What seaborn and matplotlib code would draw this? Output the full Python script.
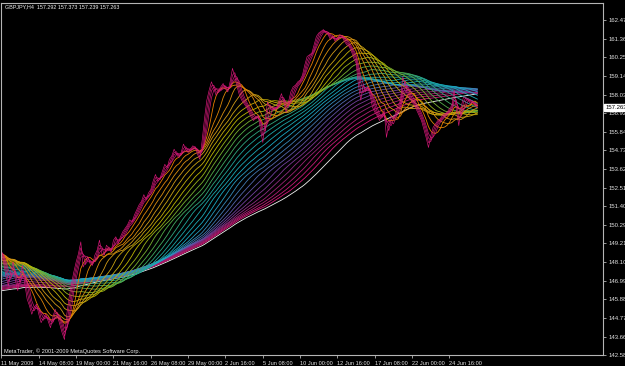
import numpy as np
import pandas as pd
import matplotlib
matplotlib.use("Agg")
import matplotlib.pyplot as plt
import seaborn as sns
from matplotlib.colors import LinearSegmentedColormap, to_hex

# ---------------- data ----------------
# H4 closes before the visible window (needed by the slow averages)
warmup_close = [145.5, 145.2, 144.8, 144.5, 144.9, 145.3, 145.6, 145.1, 144.7, 144.4,
                144.8, 145.2, 145.5, 145.0, 144.6, 144.9, 145.3, 145.6, 145.2, 144.9,
                145.3, 145.8, 146.2, 146.6, 146.3, 146.0, 145.6, 145.2, 144.8, 144.4,
                144.0, 143.7, 143.4, 143.8, 144.2, 144.6, 144.3, 143.9, 143.6, 144.0,
                144.5, 145.0, 145.4, 145.1, 145.6, 146.0, 146.4, 146.1, 145.7, 146.2,
                146.6, 147.0, 146.7, 146.3, 145.9, 146.4, 146.8, 146.5, 146.1, 145.8,
                146.2, 146.6, 146.3, 145.9, 146.4, 146.7, 146.2, 145.8, 146.1, 146.5,
                146.3, 146.7, 146.4, 146.9, 147.2, 146.8, 146.5, 146.9, 147.3, 147.0,
                146.7, 147.1, 147.5, 147.2, 146.9, 147.3, 147.6, 147.3, 147.0, 147.4,
                147.8, 147.5, 147.2, 147.6, 148.0, 147.7, 147.4, 147.8, 148.2, 147.9,
                147.6, 148.0, 148.4, 148.1, 147.8, 148.2, 148.6, 148.3, 148.0, 148.4,
                148.8, 148.5, 148.2, 148.6, 148.9, 148.6, 148.3, 148.7, 148.9, 148.7]

# H4 closes (bar 0 = 11 May 2009 16:00)
close = [148.5, 148.0, 147.2, 146.7, 147.6, 148.1, 147.0, 146.4, 147.3, 147.9,
         146.8, 145.9, 145.5, 145.0, 145.4, 145.6, 145.0, 144.5, 144.8, 145.0,
         144.6, 144.2, 144.8, 145.3, 144.9, 144.4, 143.9, 143.5, 145.0, 146.0,
         146.8, 147.5, 148.1, 148.6, 149.3, 147.8, 148.1, 148.4, 148.0, 147.9,
         148.5, 148.8, 149.4, 148.6, 148.5, 149.1, 148.9, 148.7, 149.4, 149.6,
         149.2, 149.6, 149.9, 150.1, 150.3, 150.6, 150.5, 150.9, 151.2, 151.5,
         151.7, 152.1, 151.8, 152.2, 152.4, 152.9, 153.3, 152.9, 153.1, 153.5,
         153.9, 153.7, 154.2, 154.4, 154.8, 154.5, 154.3, 154.6, 155.1, 154.8,
         154.6, 154.8, 155.0, 154.9, 154.5, 154.2, 155.3, 156.6, 157.7, 158.3,
         158.8, 158.4, 158.0, 158.3, 158.5, 158.7, 158.4, 158.2, 158.8, 159.6,
         159.1, 158.5, 158.0, 157.7, 157.5, 157.3, 157.0, 156.7, 156.5, 156.7,
         156.8, 156.0, 155.2, 156.5, 157.6, 157.3, 157.1, 157.2, 157.3, 157.7,
         158.1, 157.6, 157.0, 157.6, 158.2, 158.5, 158.6, 158.8, 158.9, 159.2,
         159.8, 160.3, 160.4, 160.5, 161.0, 161.5, 161.7, 161.8, 161.9, 161.7,
         161.6, 161.3, 161.5, 161.2, 161.4, 161.6, 161.5, 161.2, 161.0, 160.9,
         160.6, 160.2, 159.9, 158.6, 157.7, 158.6, 158.3, 158.5, 158.0, 157.3,
         157.0, 156.8, 156.5, 156.8, 157.1, 155.5, 156.3, 156.8, 156.6, 157.0,
         157.4, 157.7, 159.1, 158.6, 158.0, 157.8, 157.6, 157.4, 157.1, 156.8,
         156.5, 156.0, 155.5, 154.9, 155.6, 156.1, 156.3, 156.5, 156.6, 156.8,
         156.9, 157.0, 157.2, 157.4, 158.3, 157.1, 156.2, 157.3, 157.9, 157.8,
         157.7, 157.5, 157.6, 157.4, 157.263]

fast_periods = [1, 2, 3, 4]
rainbow_periods = list(range(6, 115, 4))
slow_period = 120

x_tick_bars = [0, 16, 32, 48, 64, 80, 96, 112, 128, 144, 160, 176, 192]
x_tick_labels = ["11 May 2009", "14 May 08:00", "19 May 00:00", "21 May 16:00",
                 "26 May 08:00", "29 May 00:00", "2 Jun 16:00", "5 Jun 08:00",
                 "10 Jun 00:00", "12 Jun 16:00", "17 Jun 08:00", "22 Jun 00:00",
                 "24 Jun 16:00"]
y_tick_values = [162.470, 161.360, 160.250, 159.140, 158.030, 156.920, 155.840,
                 154.730, 153.620, 152.510, 151.400, 150.290, 149.210, 148.100,
                 146.990, 145.880, 144.770, 143.660, 142.580]
y_tick_labels = ["162.470", "161.360", "160.250", "159.140", "158.030", "156.920",
                 "155.840", "154.730", "153.620", "152.510", "151.400", "150.290",
                 "149.210", "148.100", "146.990", "145.880", "144.770", "143.660",
                 "142.580"]
title_text = "GBPJPY,H4  157.292 157.373 157.239 157.263"
last_price = "157.263"
copyright_text = "MetaTrader, \u00a9 2001-2009 MetaQuotes Software Corp."

# ---------------- build moving averages (simple MAs) ----------------
full = pd.Series(warmup_close + close, dtype=float)
n_warm = len(warmup_close)
bars = np.arange(len(close))

rows = []
names = []
palette = {}

rain_cmap = LinearSegmentedColormap.from_list(
    "rain", ["#e87c00", "#d09a18", "#bdb800", "#52ac48", "#1ea59c",
             "#19abc4", "#4279b2", "#7042a0", "#9a2274", "#d8187a"])

def add_line(name, period, color):
    sma = full.rolling(window=period, min_periods=1).mean().values[n_warm:]
    rows.append(pd.DataFrame({"bar": bars, "value": sma, "line": name}))
    names.append(name)
    palette[name] = color

add_line("MA%d" % slow_period, slow_period, "#f0f0f0")
for i, p in enumerate(rainbow_periods[::-1]):
    frac = 1 - i / (len(rainbow_periods) - 1)
    add_line("MA%d" % p, p, to_hex(rain_cmap(frac)))
df_main = pd.concat(rows, ignore_index=True)
main_names = list(names)

rows, names = [], []
for p in fast_periods[::-1]:
    add_line("MA%d" % p, p, "#d8187a")
df_fast = pd.concat(rows, ignore_index=True)
fast_names = list(names)

# ---------------- figure ----------------
sns.set_style("dark")
plt.rcParams["font.family"] = ["Liberation Sans", "DejaVu Sans"]

W, H = 625, 366
fig = plt.figure(figsize=(W / 100, H / 100), dpi=100, facecolor="black")
ax = fig.add_axes([1 / W, 11 / H, 602 / W, 352 / H])
ax.set_facecolor("black")

sns.lineplot(data=df_main, x="bar", y="value", hue="line", hue_order=main_names,
             palette={k: palette[k] for k in main_names}, linewidth=0.6,
             legend=False, estimator=None, sort=False, ax=ax)
sns.lineplot(data=df_fast, x="bar", y="value", hue="line", hue_order=fast_names,
             palette={k: palette[k] for k in fast_names}, linewidth=0.45,
             legend=False, estimator=None, sort=False, ax=ax)

ax.set_xlim(-0.2, 257.8)
ax.set_ylim(142.58, 163.48)
ax.set_xlabel("")
ax.set_ylabel("")
ax.grid(False)

for s in ax.spines.values():
    s.set_color("#b4b4b4")
    s.set_linewidth(0.8)
    s.set_visible(True)

ax.set_xticks(x_tick_bars)
ax.set_xticklabels(x_tick_labels, ha="left", fontsize=4.1, color="#e0e0e0")
ax.yaxis.tick_right()
ax.set_yticks(y_tick_values)
ax.set_yticklabels(y_tick_labels, fontsize=4.3, color="#e0e0e0")
ax.tick_params(axis="x", length=2.5, width=0.6, color="#b4b4b4", pad=1.5,
               direction="out", bottom=True)
ax.tick_params(axis="y", length=2.5, width=0.6, color="#b4b4b4", pad=1.5,
               direction="out", right=True, left=False)

# last price marker on the price scale
ax.text(1.0035, 157.263, last_price, transform=ax.get_yaxis_transform(),
        fontsize=4.3, color="black", va="center", ha="left", zorder=10,
        bbox=dict(boxstyle="square,pad=0.12", fc="white", ec="white"),
        clip_on=False)

fig.text(5 / W, 1 - 7 / H, title_text, fontsize=3.9, color="#f0f0f0",
         va="center", ha="left")
fig.text(4 / W, 1 - 351 / H, copyright_text, fontsize=4.1, color="#f0f0f0",
         va="center", ha="left")

fig.savefig("out.png", dpi=100, facecolor="black")
